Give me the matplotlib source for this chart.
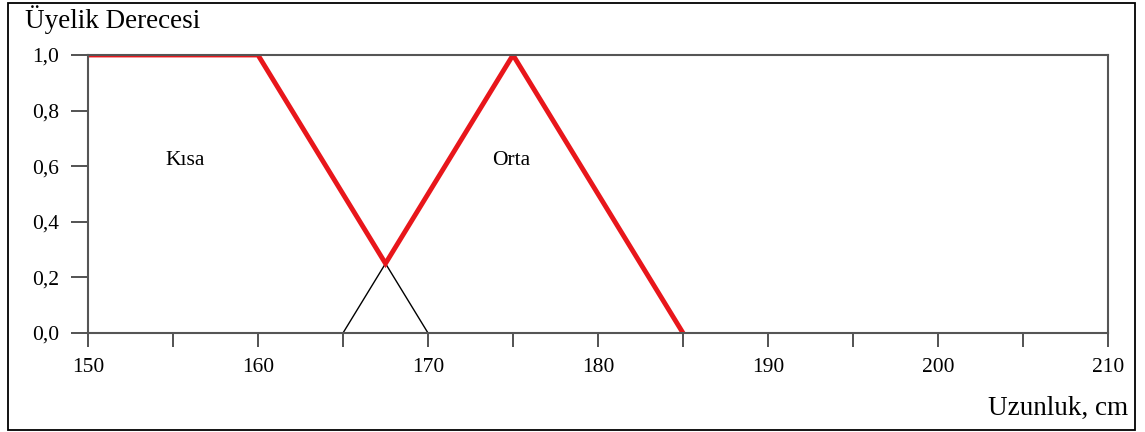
import matplotlib.pyplot as plt
from matplotlib.patches import Rectangle
from matplotlib.ticker import FuncFormatter, MultipleLocator

plt.rcParams['font.family'] = ['Liberation Serif', 'DejaVu Serif']

# membership functions
kisa_x = [150, 160, 170]
kisa_y = [1.0, 1.0, 0.0]
orta_x = [165, 175, 185]
orta_y = [0.0, 1.0, 0.0]
# upper envelope (union) drawn in red
union_x = [150, 160, 167.5, 175, 185]
union_y = [1.0, 1.0, 0.25, 1.0, 0.0]

set_names = ['Kısa', 'Orta']
name_pos = [(155.7, 0.62), (174.9, 0.62)]

fig = plt.figure(figsize=(11.45, 4.32), dpi=100)
ax = fig.add_axes([88 / 1145, 1 - 333 / 432, 1020 / 1145, 278 / 432])

ax.plot(kisa_x, kisa_y, color='black', linewidth=1.0)
ax.plot(orta_x, orta_y, color='black', linewidth=1.0)
ax.plot(union_x, union_y, color='#e8161b', linewidth=3.5, solid_joinstyle='miter')

for name, (px, py) in zip(set_names, name_pos):
    ax.text(px, py, name, fontsize=15.5, ha='center', va='center')

ax.set_xlim(150, 210)
ax.set_ylim(0, 1)
ax.xaxis.set_major_locator(MultipleLocator(10))
ax.xaxis.set_minor_locator(MultipleLocator(5))
ax.yaxis.set_major_locator(MultipleLocator(0.2))
ax.yaxis.set_major_formatter(FuncFormatter(lambda v, p: f'{v:.1f}'.replace('.', ',')))

for s in ax.spines.values():
    s.set_color('#555555')
    s.set_linewidth(1.5)

ax.tick_params(axis='x', which='both', direction='out', length=10, width=1.3,
               color='#444444', labelsize=15.5, pad=8)
ax.tick_params(axis='y', direction='out', length=12, width=1.3,
               color='#444444', labelsize=15.5, pad=9)

fig.text(25 / 1145, 1 - 20 / 432, 'Üyelik Derecesi', fontsize=19.5, ha='left', va='center')
fig.text(1128 / 1145, 1 - 408 / 432, 'Uzunluk, cm', fontsize=19.5, ha='right', va='center')

fig.patches.append(Rectangle((8 / 1145, 1 - 430 / 432), 1127 / 1145, 427 / 432,
                             transform=fig.transFigure, fill=False,
                             edgecolor='black', linewidth=1.3))

fig.savefig('out.png', dpi=100)
